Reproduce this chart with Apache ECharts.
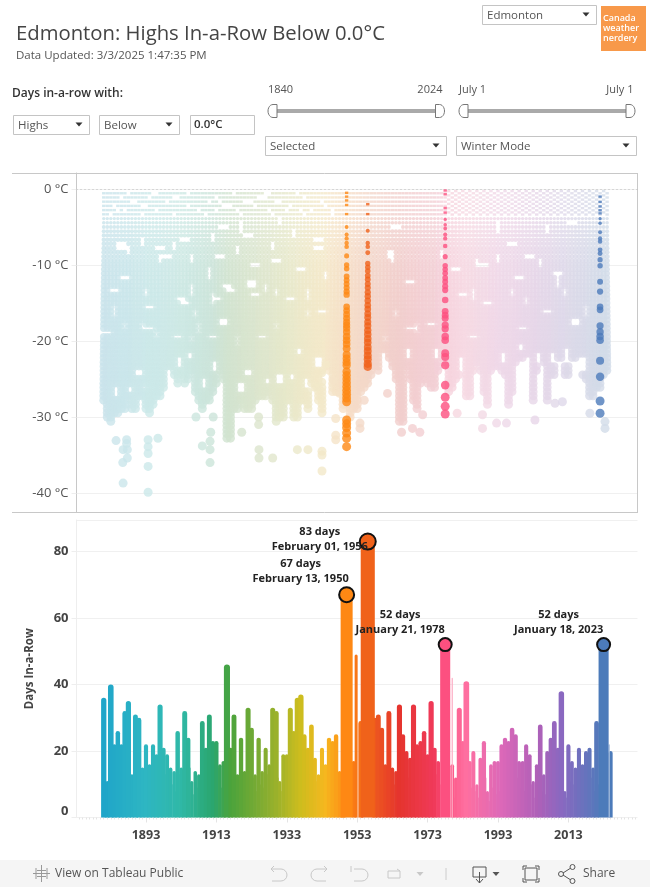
<!DOCTYPE html>
<html><head><meta charset="utf-8">
<style>html,body{margin:0;padding:0;background:#fff}#c{width:650px;height:887px}</style>
<script src="https://cdn.jsdelivr.net/npm/echarts@6/dist/echarts.min.js"></script>
</head><body><div id="c"></div>
<script>
// ---------- data ----------
const firstYear = 1881;
// longest run of days per winter, 1881 onward (null: none drawn)
const longestRun = [36,11,40,22,26,22,32,35,13,31,
30,15,22,16,22,19,34,21,19,15,
14,26,15,32,24,11,14,13,29,21,
31,23,23,16,17,46,21,31,13,24,
14,33,27,13,24,14,21,16,33,32,
11,19,19,33,26,36,37,25,21,28,
18,13,21,16,24,23,25,14,11,null,
null,17,null,29,null,null,null,30,31,27,
16,32,15,14,34,25,20,18,34,22,
23,26,19,35,21,17,null,null,null,16,
12,33,23,41,17,20,10,18,23,8,
16,17,17,22,24,23,27,25,17,17,
22,19,11,16,28,13,20,24,29,21,
38,8,22,17,15,21,16,20,21,15,
29,null,null,null,20];
// a shorter run in the same winter
const secondRun = [5,8,13,20,10,20,15,12,7,14,
9,12,15,11,14,16,12,13,14,10,
8,13,9,12,15,7,9,8,13,14,
12,16,15,9,11,17,14,13,8,12,
9,14,12,8,10,9,13,10,15,12,
8,17,18,14,16,15,14,12,13,12,
11,9,14,12,13,15,11,8,6,null,
null,10,null,12,null,null,null,13,12,14,
11,14,10,9,15,13,12,11,14,13,
12,14,11,16,13,10,null,null,null,6,
8,14,15,13,9,8,6,10,12,5,
9,7,8,12,14,11,13,12,9,8,
12,10,6,9,8,7,12,13,14,9,
12,6,11,10,8,12,9,10,12,8,
10,null,null,null,null];
// very thin runs seen beside the big ones: [year, days]
const thinRuns = [[1952.7,49],[1980,42],[2024.6,22]];
const selectedYears = [1950,1956,1978,2023];
const selectedDays = [67,83,52,52];
const selectedDates = ['February 13, 1950','February 01, 1956','January 21, 1978','January 18, 2023'];
const xTickLabels = [1893,1913,1933,1953,1973,1993,2013];
const tempTicks = [0,-10,-20,-30,-40];
// coldest end of the near-solid cloud per winter, 1881 onward (deg C)
const cloudFloor = [-28,-30.4,-31,-29.5,-29.5,-29,-29,-27.5,-29,-29.3,
-27.5,-27.5,-29,-29.5,-28.4,-27.3,-27.5,-26.5,-25.5,-25,
-24.5,-26,-24.5,-25.6,-25,-24,-27,-28.2,-29,-28,
-28,-27,-26,-24,-25,-33,-33,-29.3,-29,-28,
-29,-29,-29,-28,-27.5,-27.3,-27.3,-27,-28,-30.8,
-30.5,-30.4,-27.8,-28.2,-30,-30,-28.2,-28.2,-29,-25.6,
-26.5,-27.8,-29.5,-23.4,-26,-27,-27,-27,-29,-28,
-29.5,-29,-29,-27,-26.5,-26,
-24.5,-23.6,-24,-23.2,
-22.7,-22.7,-23.6,-25.3,-30.8,-30.8,-23.6,-25.3,-28,-28.9,
-26,-25.3,-25.7,-26.2,-26.2,-24,-22.7,-23,-26.7,-26.2,
-25.1,-24.5,-24,-27.5,-27.5,-24,-23.2,-24,-27,-28.6,
-24,-23.6,-23.6,-24,-24.5,-28.4,-26.7,-23.2,-22.7,-22.7,
-21.8,-21.8,-28,-24,-23.2,-23.2,-28,-24.5,-24.5,-22.7,
-22.7,-24.5,-24.5,-22.3,-22.3,-21.8,-24.5,-25.3,-27.5,-27.5,
-26.2,-26.2,-24.5,-24];
// isolated cold winter days below the cloud: [year, deg C]
const isolatedDays = [[1884.5,-33.1],[1887.5,-33],[1887.5,-33.5],[1886.5,-34.3],[1887.7,-34.3],[1887.7,-35.4],[1886.4,-36],[1886.5,-38.7],
[1893.6,-33],[1893.6,-33.9],[1893.6,-34.8],[1893.6,-36.5],[1893.6,-39.9],[1896.4,-32.8],[1907.2,-30],[1912.1,-30],[1911.4,-32],[1911.2,-33.2],[1909,-33.8],[1911.2,-34.3],[1911.2,-36],
[1925,-30],[1925,-31],[1925.1,-34.3],[1925.1,-35.4],[1929,-35.4],[1920.2,-32],[1936,-34.3],[1939,-34.3],[1943,-34.5],[1943,-35],[1943,-37.1],[1946.9,-33],[1946.9,-32.4],[1946.9,-30.2],
[1951,-30],[1953.8,-30.8],[1953.8,-31.5],[1955,-25.6],[1955,-27.8],[1961.6,-26.9],[1965.6,-32],[1968.7,-31.5],[1970.8,-32],[1971.6,-29.7],[1981.4,-29.5],[1988.6,-31.5],[1988.6,-29.7],[1992.6,-30.8],[1995.4,-30.8],[2003.5,-30.4],[2009.2,-28.2],[2011.3,-28],[2019.1,-29.5],[2023.4,-31.5],[2023.4,-30.6],
[1943,-24.2],[1943,-25.4],[1944.1,-23.1],[1941.4,-26],[1946.2,-25.2],[1948,-26.9]];
// gaps in the cloud: single missing readings, [year, deg C]
const missingReadings = [[1886,-7.5],[1892,-7.1],[1897,-8],[1901,-7.4],[1904,-6.9],[1912,-6.3],[1915,-5],[1920,-5],[1922,-6],[1931,-4.3],[1942,-7.6],[1935,-6],[1942,-6.5],[1888,-8.2],[1899,-8.7],[1906,-9.3],[1914,-9.1],[1919,-8.2],[1924,-9.8],[1929,-7.6],[1930,-9.6],[1897,-9.3],
[1887,-11.5],[1906,-13.3],[1917,-13.1],[1911,-11.1],[1923,-12.5],[1930,-13.7],[1924,-13.7],[1944,-11.3],[1937,-10.4],[1893,-13.5],[1903,-14.6],[1912,-14.4],[1916,-12.6],[1939,-13.9],[1934,-14.6],[1927,-13.1],[1884,-13.5],
[1892,-18.1],[1894,-18.3],[1908,-18.3],[1912,-19.2],[1896,-19.4],[1902,-19.6],[1930,-18.2],[1926,-19.6],[1939,-16.6],[1943,-16.1],[1919,-20],[1915,-17.5],[1906,-19.6],[1894,-15.7],[1884,-16.1],[1904,-14.8],[1907,-16.6],[1882,-18.8],[1887,-17.9],[1913,-14.4],
[1963,-8.9],[1964,-5],[1962,-8.7],[1968,-12.2],[1964,-16.6],[1968,-18.3],[1970,-18.3],[1974,-17.9],[1961,-19.6],[1983,-13.9],[1986,-13.9],[1989,-9.8],[1987,-9.6],[1990,-15],[1993,-5],[1997,-7.1],[1997,-13.5],[2002,-8.7],[2005,-9.6],[1999,-11.8],[2001,-14.8],[2010,-10.9],[2012,-13.5],[2015,-17.5],[2018,-16.1],[1986,-19.6],[1977,-8.7],[1981,-10.4],[1993,-9.1],[2007,-16.1],[2010,-12.2],[2000,-18.6],[2007,-5.4],[2014,-4.5]];
// white pockets low in the cloud: [fromYear, toYear, warmEdge, coldEdge]
const coldPockets = [[1890,1892,-23.5,-24.8],[1888,1889,-25.8,-27],[1892,1893,-25.7,-26.4],[1899,1900,-23.8,-25.6],[1919,1921,-25.5,-27],[1921,1923,-23.5,-24.5],[1930,1932,-24.2,-26],[1941,1943,-22,-23.5],[1943,1945,-24,-26],[1905,1906,-21.5,-22.5],[1936,1937,-21,-22],[1912,1913,-22.5,-24],
[1960,1961,-21.5,-23],[1975,1976,-21,-22.5],[1982,1983,-22,-24],[2004,2005,-21.5,-23],[2012,2013,-21,-23],[2017,2018,-22,-24],[1994,1995,-21.5,-23],[1999,2000,-20.5,-21.5],[2008,2009,-21.5,-23],[1967,1968,-21,-22.5],
[1884,1885,-26,-27.5],[1902,1903,-22,-23.5],[1909,1910,-25,-26.5],[1927,1928,-24.5,-26],[1938,1939,-25,-26.5],[1934,1935,-24,-25.5]];
// breaks in the six shallow rows near zero: [year, row]
const shallowBreaks = [[1888,1],[1895,1],[1896,1],[1905,1],[1918,1],[1927,1],[1928,1],[1936,1],
[1886,2],[1894,2],[1901,2],[1902,2],[1913,2],[1925,2],[1926,2],[1927,2],[1938,2],
[1889,3],[1890,3],[1899,3],[1911,3],[1914,3],[1921,3],[1922,3],[1923,3],[1930,3],[1931,3],[1943,3],
[1884,4],[1892,4],[1893,4],[1905,4],[1915,4],[1916,4],[1917,4],[1924,4],[1934,4],[1944,4],
[1885,5],[1887,5],[1896,5],[1908,5],[1913,5],[1919,5],[1928,5],[1933,5],[1937,5],[1940,5],[1946,5],
[1883,6],[1892,6],[1901,6],[1910,6],[1920,6],[1929,6],[1938,6],[1946,6]];
const sel1950 = [-0.5,-1,-1.5,-2.1,-3.3,-5,-6,-6.5,-7.1,-7.6,-8.8,-10,-10.5,-11.5,-12,-12.5,-13,-13.5,-13.9,-15.5,-16,-16.5,-17,-17.5,-17.9,-18.3,-18.8,-19.4,-19.9,-20.4,-21,-21.8,-22.3,-22.8,-23.2,-24,-24.5,-25,-25.5,-26,-26.5,-27,-27.5,-28,-30.4,-30.9,-31.4,-32.1,-32.8,-33.9];
const sel1956 = [-2,-3.3,-5.5,-7.1,-7.6,-8.4,-9.8,-10.3,-10.8,-11.4,-11.9,-12.5,-13,-13.6,-14.1,-14.7,-15.3,-15.8,-16.4,-16.9,-17.5,-18,-18.6,-19.1,-19.7,-20.2,-20.8,-21.3,-21.9,-22.4,-23,-23.4];
const sel1978 = [-0.2,-0.7,-2.5,-3.1,-4,-4.7,-5.2,-6,-6.5,-7.5,-8.9,-10.1,-10.6,-11.1,-11.7,-12.2,-12.8,-13.3,-14.6,-16.1,-16.6,-17,-17.9,-18.4,-19.4,-19.9,-21.6,-22.1,-23.2,-25.8,-27.4,-28.6,-29.6];
const sel2023 = [-1,-1.7,-2.3,-2.8,-3.2,-3.9,-4.5,-5.7,-6.5,-6.9,-8,-8.5,-9.3,-10.1,-12.2,-13.5,-15.5,-15.9,-18,-18.8,-19.4,-19.9,-22.6,-24.7,-27.9,-29.5];

// ---------- style ----------
const ff = '"Open Sans", sans-serif';
const colorStops = [[1881,'#1fa5c9'],[1893,'#2eb6c2'],[1903,'#2fb8a6'],[1912,'#2ba66f'],[1917,'#4aa33c'],[1928,'#8cae2f'],[1937,'#cdbd1e'],[1944,'#f6b71f'],[1950,'#fe8814'],[1956,'#f0621a'],[1965,'#e5342e'],[1975,'#f03a5a'],[1978,'#fc5080'],[1984,'#fe6fa0'],[1994,'#dc68b8'],[2004,'#b060b8'],[2011,'#8a68c0'],[2023,'#4c7bba'],[2026,'#4c7bba']];
const rgb = h => [1,3,5].map(i => parseInt(h.substr(i,2),16));
function yearRgb(y){
  for(let i=0;i<colorStops.length-1;i++){
    const a=colorStops[i],b=colorStops[i+1];
    if(y<=b[0]){const t=Math.max(0,(y-a[0])/(b[0]-a[0]));const A=rgb(a[1]),B=rgb(b[1]);return A.map((v,k)=>v+(B[k]-v)*t);}
  }
  return rgb('#4c7bba');
}
const css = c => 'rgb('+c.map(Math.round).join(',')+')';
const full = y => css(yearRgb(y));
const pale = y => css(yearRgb(y).map(v => v*0.2+244*0.8));
const shallowT = 3.4;
const dotSize = t => Math.abs(t)<shallowT ? [3.4,2.4] : Math.min(9,Math.max(2,1.7*Math.sqrt(Math.abs(t))));
const dotShape = t => Math.abs(t)<shallowT ? 'rect' : 'circle';
const barW = v => 2.4+0.08*v;
const selW = v => 3.3+0.13*v;

// ---------- expand the cloud onto the 1 deg F reading grid ----------
const fStep = 5/9;
const cloud = [];
const gone=(y,T,r)=>{
  if(shallowBreaks.some(b=>b[0]===y&&b[1]===r)) return true;
  if(coldPockets.some(p=>y>=p[0]&&y<=p[1]&&T<=p[2]&&T>=p[3])) return true;
  return missingReadings.some((h,i)=> i%2 ? (h[0]===y && Math.abs(h[1]-T)<=0.6) : (Math.abs(h[0]-y)<=1 && Math.abs(h[1]-T)<=0.28));
};
cloudFloor.forEach((floor,i)=>{
  const y = firstYear+i;
  if(y>=1979){ // metric-era readings crowd the band near zero
    for(let r=1;r*0.28<3.6;r++){ if((y+r)%2===0) cloud.push([y,-r*0.28]); }
  }
  for(let r=1;r*fStep<=-floor;r++){
    const t=r*fStep,T=-t;
    if(y>=1979 && t<3.6) continue;
    if(gone(y,T,r)) continue;
    cloud.push([y,+T.toFixed(2)]);
  }
});
isolatedDays.forEach(d=>cloud.push(d));

// ---------- chrome ----------
const G = [];
const line=(x1,y1,x2,y2,c,w)=>G.push({type:'line',silent:true,z:20,shape:{x1,y1,x2,y2},style:{stroke:c,lineWidth:w||1,fill:null}});
const rect=(x,y,w,h,fill,stroke)=>G.push({type:'rect',silent:true,z:20,shape:{x,y,width:w,height:h},style:{fill:fill||'#fff',stroke:stroke===null?null:(stroke||'#c4c4c4'),lineWidth:1}});
const text=(x,y,t,o)=>G.push({type:'text',silent:true,z:21,x,y,style:Object.assign({text:t,font:'12px '+ff,fill:'#555',verticalAlign:'middle'},o||{})});
const caret=(x,y,c)=>G.push({type:'polygon',silent:true,z:21,shape:{points:[[x-3.5,y-2],[x+3.5,y-2],[x,y+2]]},style:{fill:c||'#333'}});
const drop=(x,y,w,h,t)=>{rect(x+.5,y+.5,w,h);text(x+5,y+h/2+1,t,{font:'11.5px '+ff,fill:'#555'});caret(x+w-10,y+h/2,'#333');};
const poly=(pts,c,w)=>G.push({type:'polyline',silent:true,z:21,shape:{points:pts},style:{fill:null,stroke:c,lineWidth:w||1}});
const arc=(cx,cy,r,a0,a1,c,w)=>G.push({type:'arc',silent:true,z:21,shape:{cx,cy,r,startAngle:a0*Math.PI/180,endAngle:a1*Math.PI/180,clockwise:true},style:{fill:null,stroke:c,lineWidth:w||1}});
// panel frame
line(12,173.5,637,173.5,'#c8c8c8');line(12,512.5,637,512.5,'#c8c8c8');line(637.5,173,637.5,513,'#c8c8c8');
// header
text(16,34,'Edmonton: Highs In-a-Row Below 0.0\u00b0C',{font:'500 20.3px '+ff,fill:'#444'});
text(16,56,'Data Updated: 3/3/2025 1:47:35 PM',{font:'11.5px '+ff,fill:'#555'});
drop(482,5,114,19,'Edmonton');
rect(601,6,45,45,'#f8994a',null);
text(603,18,'Canada',{font:'600 9px '+ff,fill:'#fff'});text(603,28,'weather',{font:'600 9px '+ff,fill:'#fff'});text(603,38,'nerdery',{font:'600 9px '+ff,fill:'#fff'});
text(12,94,'Days in-a-row with:',{font:'600 12px '+ff,fill:'#333'});
drop(13,115,76,19,'Highs');drop(99,115,80,19,'Below');
rect(190.5,115.5,64,19);text(194,125,'0.0\u00b0C',{font:'600 11.5px '+ff,fill:'#333'});
text(268,90,'1840',{font:'11px '+ff});text(442.5,90,'2024',{font:'11px '+ff,textAlign:'right'});
text(459,90,'July 1',{font:'11px '+ff});text(633.5,90,'July 1',{font:'11px '+ff,textAlign:'right'});
function handle(x,dir){
  const pts=[[x,104.5],[x,117.5]];
  for(let a=90;a<=270;a+=15){const r=a*Math.PI/180;pts.push([x+dir*(4+(-Math.cos(r))*5),111+Math.sin(r)*6.5]);}
  G.push({type:'polygon',silent:true,z:21,shape:{points:pts},style:{fill:'#fff',stroke:'#777',lineWidth:1}});
}
function slider(a,b){
  G.push({type:'rect',silent:true,z:20,shape:{x:a,y:109,width:b-a,height:4},style:{fill:'#aaa'}});
  handle(a,-1);handle(b,1);
}
slider(277,435.5);slider(468,626);
drop(265,136,181,19,'Selected');drop(456,136,180,19,'Winter Mode');
// footer
G.push({type:'rect',silent:true,z:19,shape:{x:0,y:860,width:650,height:27},style:{fill:'#f5f5f5'}});
[[[41.5,865],[41.5,882]],[[33,873.5],[50,873.5]],[[36,868],[36,873]],[[47,868],[47,873]],[[36,874],[36,879]],[[47,874],[47,879]],[[37,870.5],[46,870.5]],[[37,876.5],[46,876.5]]].forEach(p=>poly(p,'#999'));
text(55,873.5,'View on Tableau Public',{font:'12px '+ff,fill:'#555'});
poly([[274,866],[271,869],[281,869]],'#c8c8c8');poly([[271,869],[274,872]],'#c8c8c8');arc(281,875,6,-90,90,'#c8c8c8');poly([[281,881],[272,881]],'#c8c8c8');
poly([[324,866],[327,869],[317,869]],'#c8c8c8');poly([[327,869],[324,872]],'#c8c8c8');arc(317,875,6,90,270,'#c8c8c8');poly([[317,881],[326,881]],'#c8c8c8');
poly([[351,866],[351,872]],'#c8c8c8');poly([[354,869],[362,869]],'#c8c8c8');arc(362,875,6,-90,90,'#c8c8c8');poly([[362,881],[354,881]],'#c8c8c8');
poly([[388,871],[400,871],[400,878],[388,878],[388,871]],'#c8c8c8');poly([[397,869],[400,871]],'#c8c8c8');
caret(420,874,'#c8c8c8');line(446,868,446,880,'#ccc');
poly([[479,877],[473,877],[473,867],[486,867],[486,877],[480,877]],'#555');poly([[479.5,872],[479.5,883]],'#555');poly([[476,879],[479.5,883],[483,879]],'#555');
caret(496,874,'#555');
poly([[525,868],[537,868],[537,880],[525,880],[525,868]],'#555');
poly([[523,870],[523,866],[527,866]],'#555');poly([[535,866],[539,866],[539,870]],'#555');poly([[523,878],[523,882],[527,882]],'#555');poly([[535,882],[539,882],[539,878]],'#555');
poly([[563,873],[570,868.5]],'#555');poly([[563,875],[570,879.5]],'#555');arc(561,874,2.5,0,360,'#555');arc(572.5,867,2.5,0,360,'#555');arc(572.5,881,2.5,0,360,'#555');
text(583,873.5,'Share',{font:'12px '+ff,fill:'#555'});

// ---------- chart ----------
const xMin=1873.26,xMax=2032.63;
const allYears=[];for(let y=1874;y<=2032;y++)allYears.push(y);
const runItem=(year,days,widthPx,color,alpha)=>({value:[year,days],widthPx,color,alpha});
const bars=[];
secondRun.forEach((v,i)=>{if(v!=null)bars.push(runItem(firstYear+i+0.5,v,1.6,full(firstYear+i+0.5),0.7));});
longestRun.forEach((v,i)=>{if(v!=null)bars.push(runItem(firstYear+i,v,barW(v),full(firstYear+i),1));});
thinRuns.forEach(r=>bars.push(runItem(r[0],r[1],r[0]<1960?3:1.2,r[0]<1960?full(r[0]):css(yearRgb(r[0]).map(v=>v*.5+127)),1)));
selectedYears.forEach((y,i)=>bars.push(runItem(y,selectedDays[i],selW(selectedDays[i]),full(y),1)));
function renderBar(params,api){
  const d=bars[params.dataIndex];
  const top=api.coord([d.value[0],d.value[1]]),base=api.coord([d.value[0],0]);
  const w=d.widthPx,r=w/2;
  return {type:'rect',shape:{x:top[0]-w/2,y:top[1],width:w,height:base[1]-top[1],r:[r,r,0,0]},style:{fill:d.color,opacity:d.alpha}};
}
const topLabelOffset=[[-46,-23],[-48,-2],[-45,-22],[-45,-22]];
const selectedTop=selectedYears.map((y,i)=>({
  value:[y,selectedDays[i]],
  symbolSize:[15,16,13,13][i],
  itemStyle:{color:full(y)},
  label:{show:true,position:'inside',offset:topLabelOffset[i],formatter:selectedDays[i]+' days\n'+selectedDates[i]}
}));
const selSeries=(year,arr,col)=>({type:'scatter',xAxisIndex:0,yAxisIndex:0,silent:true,z:5,data:arr.map(t=>[year,t]),symbol:v=>dotShape(v[1]),symbolSize:v=>dotSize(v[1]),itemStyle:{color:col}});

const chart=echarts.init(document.getElementById('c'),null,{renderer:'canvas'});
chart.setOption({
  animation:false,
  backgroundColor:'#fff',
  textStyle:{fontFamily:ff},
  grid:[{left:76.5,top:173,width:561,height:339},{left:76.5,top:520,width:561,height:297.5}],
  xAxis:[
    {gridIndex:0,type:'value',min:xMin,max:xMax,show:false,splitLine:{show:false}},
    {gridIndex:1,type:'value',min:xMin,max:xMax,axisLine:{show:false},splitLine:{show:false},
      axisTick:{show:true,customValues:allYears,length:2,lineStyle:{color:'#e4e4e4'}},
      axisLabel:{show:true,customValues:xTickLabels,formatter:v=>String(v),margin:11,fontSize:12.5,fontWeight:'bold',color:'#444',hideOverlap:false}},
    {gridIndex:1,type:'value',min:xMin,max:xMax,position:'bottom',axisLine:{show:false},splitLine:{show:false},
      axisTick:{show:true,customValues:xTickLabels,length:5,lineStyle:{color:'#e4e4e4'}},axisLabel:{show:false}}
  ],
  yAxis:[
    {gridIndex:0,type:'value',min:-42.5,max:2.105,
      axisLine:{show:true,onZero:false,lineStyle:{color:'#c8c8c8'}},
      axisTick:{show:true,customValues:tempTicks,length:5,lineStyle:{color:'#eeeeee'}},
      axisLabel:{customValues:tempTicks,formatter:v=>v+' \u00b0C',margin:8,fontSize:13,color:'#555',padding:[2,0,0,0]},
      splitLine:{show:true,lineStyle:{color:'#f0f0f0'}}},
    {gridIndex:1,type:'value',min:0,max:89.47,interval:20,name:'Days In-a-Row',nameLocation:'middle',nameGap:41,
      nameTextStyle:{fontSize:11.5,fontWeight:'bold',color:'#444'},
      axisLine:{show:true,onZero:false,lineStyle:{color:'#eeeeee'}},
      axisTick:{show:true,length:5,lineStyle:{color:'#eeeeee'}},
      axisLabel:{margin:8,fontSize:13,fontWeight:'bold',color:'#444',verticalAlignMinLabel:'bottom',showMaxLabel:false},
      splitLine:{show:true,lineStyle:{color:'#f0f0f0'}}}
  ],
  graphic:G,
  series:[
    {type:'scatter',xAxisIndex:0,yAxisIndex:0,silent:true,z:3,data:cloud,
      symbol:v=>dotShape(v[1]),symbolSize:v=>dotSize(v[1]),itemStyle:{color:p=>pale(p.value[0])},
      markLine:{silent:true,symbol:'none',label:{show:false},lineStyle:{color:'#bdbdbd',type:[1,3],width:1},data:[{yAxis:0}]}},
    selSeries(1950,sel1950,full(1950)),
    selSeries(1956,sel1956,full(1956)),
    selSeries(1978,sel1978,full(1978)),
    selSeries(2022,sel2023,full(2023)),
    {type:'custom',xAxisIndex:1,yAxisIndex:1,silent:true,z:3,clip:false,coordinateSystem:'cartesian2d',renderItem:renderBar,encode:{x:0,y:1},data:bars.map(b=>b.value)},
    {type:'scatter',xAxisIndex:1,yAxisIndex:1,silent:true,z:6,data:selectedTop,
      itemStyle:{borderColor:'#111',borderWidth:2,opacity:1},
      label:{color:'#222',fontSize:11,fontWeight:'bold',lineHeight:15,align:'center',verticalAlign:'middle'}}
  ]
});
</script></body></html>
